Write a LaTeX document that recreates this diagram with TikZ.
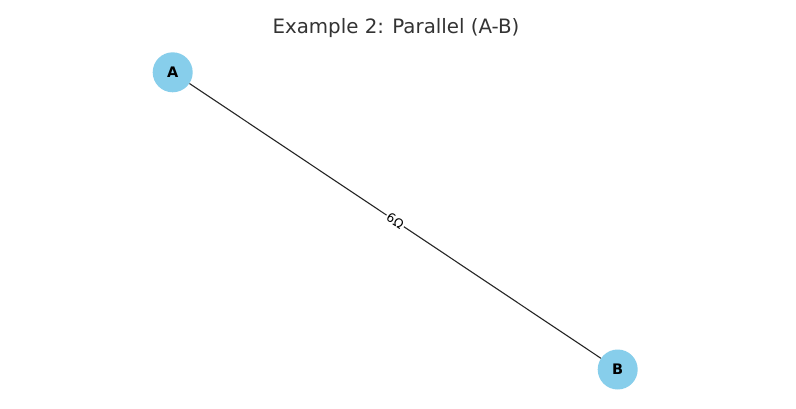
\documentclass[tikz,border=0pt]{standalone}
\usepackage{fontspec}
\setmainfont{DejaVu Sans}
\definecolor{skyblue}{HTML}{87CEEB}
\definecolor{titlegray}{HTML}{333333}
\begin{document}
\begin{tikzpicture}[x=1pt,y=-1pt,
  vertex/.style={circle,fill=skyblue,draw=none,minimum size=40pt,inner sep=0pt,font=\fontsize{14.5}{15}\selectfont\bfseries},
  edgelabel/.style={fill=white,inner sep=1.5pt,font=\fontsize{12.5}{13}\selectfont,sloped},
  wire/.style={draw=black!85,line width=1.1pt}]
\useasboundingbox[fill=white] (0,0) rectangle (796,409);
\node[font=\fontsize{19.8}{22}\selectfont,text=titlegray] (title) at (396,28) {Example 2: Parallel (A-B)};
\node[vertex] (A) at (172.7,72.3) {A};
\node[vertex] (B) at (617.7,369.5) {B};
\draw[wire] (A) -- node[edgelabel] (lbl) {6Ω} (B);
\end{tikzpicture}
\end{document}
